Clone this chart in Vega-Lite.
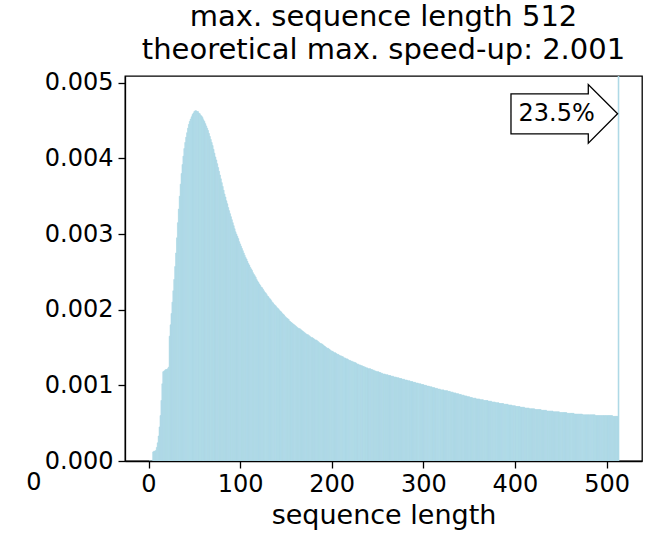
{
  "$schema": "https://vega.github.io/schema/vega-lite/v6.json",
  "width": 517,
  "height": 385,
  "autosize": {"type": "none"},
  "padding": {"left": 125, "top": 76, "right": 12, "bottom": 73},
  "background": "white",
  "title": {
    "text": ["max. sequence length 512", "theoretical max. speed-up: 2.001"],
    "font": "DejaVu Sans",
    "fontSize": 29,
    "fontWeight": "normal",
    "color": "black",
    "anchor": "middle",
    "lineHeight": 33,
    "offset": 6
  },
  "config": {
    "view": {"stroke": "black", "strokeWidth": 1.3},
    "axis": {
      "domainColor": "black",
      "domainWidth": 1.3,
      "tickColor": "black",
      "tickWidth": 1.3,
      "tickSize": 7,
      "grid": false,
      "labelFont": "DejaVu Sans",
      "labelFontSize": 24,
      "labelColor": "black",
      "titleFont": "DejaVu Sans",
      "titleFontSize": 27,
      "titleFontWeight": "normal",
      "titleColor": "black"
    }
  },
  "data": {"values": [
{"len":0,"dens":0},{"len":1,"dens":0},{"len":2,"dens":0},{"len":3,"dens":0},{"len":4,"dens":0.00012},{"len":5,"dens":0.00013},{"len":6,"dens":0.00013},{"len":7,"dens":0.00014},{"len":8,"dens":0.00018},{"len":9,"dens":0.00024},
{"len":10,"dens":0.00033},{"len":11,"dens":0.00045},{"len":12,"dens":0.0006},{"len":13,"dens":0.0008},{"len":14,"dens":0.00102},{"len":15,"dens":0.00118},{"len":16,"dens":0.00119},{"len":17,"dens":0.0012},{"len":18,"dens":0.00121},{"len":19,"dens":0.00121},
{"len":20,"dens":0.00122},{"len":21,"dens":0.00124},{"len":22,"dens":0.00165},{"len":23,"dens":0.0018},{"len":24,"dens":0.00195},{"len":25,"dens":0.0021},{"len":26,"dens":0.00225},{"len":27,"dens":0.0024},{"len":28,"dens":0.00257},{"len":29,"dens":0.00275},
{"len":30,"dens":0.00295},{"len":31,"dens":0.00315},{"len":32,"dens":0.00333},{"len":33,"dens":0.0035},{"len":34,"dens":0.00366},{"len":35,"dens":0.0038},{"len":36,"dens":0.00392},{"len":37,"dens":0.00403},{"len":38,"dens":0.00413},{"len":39,"dens":0.00421},
{"len":40,"dens":0.00428},{"len":41,"dens":0.00434},{"len":42,"dens":0.0044},{"len":43,"dens":0.00445},{"len":44,"dens":0.00449},{"len":45,"dens":0.00452},{"len":46,"dens":0.00455},{"len":47,"dens":0.00458},{"len":48,"dens":0.0046},{"len":49,"dens":0.00462},
{"len":50,"dens":0.00463},{"len":51,"dens":0.00463},{"len":52,"dens":0.00462},{"len":53,"dens":0.00462},{"len":54,"dens":0.0046},{"len":55,"dens":0.00459},{"len":56,"dens":0.00457},{"len":57,"dens":0.00456},{"len":58,"dens":0.00454},{"len":59,"dens":0.00451},
{"len":60,"dens":0.00449},{"len":61,"dens":0.00446},{"len":62,"dens":0.00443},{"len":63,"dens":0.0044},{"len":64,"dens":0.00437},{"len":65,"dens":0.00433},{"len":66,"dens":0.00429},{"len":67,"dens":0.00425},{"len":68,"dens":0.00421},{"len":69,"dens":0.00417},
{"len":70,"dens":0.00412},{"len":71,"dens":0.00407},{"len":72,"dens":0.00402},{"len":73,"dens":0.00398},{"len":74,"dens":0.00393},{"len":75,"dens":0.00388},{"len":76,"dens":0.00383},{"len":77,"dens":0.00378},{"len":78,"dens":0.00373},{"len":79,"dens":0.00368},
{"len":80,"dens":0.00363},{"len":81,"dens":0.00358},{"len":82,"dens":0.00353},{"len":83,"dens":0.00349},{"len":84,"dens":0.00344},{"len":85,"dens":0.0034},{"len":86,"dens":0.00335},{"len":87,"dens":0.00331},{"len":88,"dens":0.00327},{"len":89,"dens":0.00323},
{"len":90,"dens":0.00319},{"len":91,"dens":0.00315},{"len":92,"dens":0.00311},{"len":93,"dens":0.00307},{"len":94,"dens":0.00303},{"len":95,"dens":0.003},{"len":96,"dens":0.00297},{"len":97,"dens":0.00294},{"len":98,"dens":0.0029},{"len":99,"dens":0.00287},
{"len":100,"dens":0.00284},{"len":101,"dens":0.00281},{"len":102,"dens":0.00278},{"len":103,"dens":0.00275},{"len":104,"dens":0.00272},{"len":105,"dens":0.00269},{"len":106,"dens":0.00267},{"len":107,"dens":0.00264},{"len":108,"dens":0.00261},{"len":109,"dens":0.00259},
{"len":110,"dens":0.00256},{"len":111,"dens":0.00254},{"len":112,"dens":0.00252},{"len":113,"dens":0.00249},{"len":114,"dens":0.00247},{"len":115,"dens":0.00245},{"len":116,"dens":0.00243},{"len":117,"dens":0.0024},{"len":118,"dens":0.00238},{"len":119,"dens":0.00236},
{"len":120,"dens":0.00234},{"len":121,"dens":0.00232},{"len":122,"dens":0.0023},{"len":123,"dens":0.00229},{"len":124,"dens":0.00227},{"len":125,"dens":0.00225},{"len":126,"dens":0.00223},{"len":127,"dens":0.00222},{"len":128,"dens":0.0022},{"len":129,"dens":0.00218},
{"len":130,"dens":0.00217},{"len":131,"dens":0.00215},{"len":132,"dens":0.00214},{"len":133,"dens":0.00212},{"len":134,"dens":0.0021},{"len":135,"dens":0.00209},{"len":136,"dens":0.00207},{"len":137,"dens":0.00206},{"len":138,"dens":0.00205},{"len":139,"dens":0.00203},
{"len":140,"dens":0.00202},{"len":141,"dens":0.00201},{"len":142,"dens":0.00199},{"len":143,"dens":0.00198},{"len":144,"dens":0.00197},{"len":145,"dens":0.00195},{"len":146,"dens":0.00194},{"len":147,"dens":0.00193},{"len":148,"dens":0.00191},{"len":149,"dens":0.0019},
{"len":150,"dens":0.00189},{"len":151,"dens":0.00188},{"len":152,"dens":0.00187},{"len":153,"dens":0.00185},{"len":154,"dens":0.00184},{"len":155,"dens":0.00183},{"len":156,"dens":0.00182},{"len":157,"dens":0.00181},{"len":158,"dens":0.0018},{"len":159,"dens":0.00179},
{"len":160,"dens":0.00178},{"len":161,"dens":0.00177},{"len":162,"dens":0.00176},{"len":163,"dens":0.00175},{"len":164,"dens":0.00175},{"len":165,"dens":0.00174},{"len":166,"dens":0.00173},{"len":167,"dens":0.00172},{"len":168,"dens":0.00171},{"len":169,"dens":0.0017},
{"len":170,"dens":0.00169},{"len":171,"dens":0.00168},{"len":172,"dens":0.00167},{"len":173,"dens":0.00167},{"len":174,"dens":0.00166},{"len":175,"dens":0.00165},{"len":176,"dens":0.00164},{"len":177,"dens":0.00163},{"len":178,"dens":0.00163},{"len":179,"dens":0.00162},
{"len":180,"dens":0.00161},{"len":181,"dens":0.0016},{"len":182,"dens":0.0016},{"len":183,"dens":0.00159},{"len":184,"dens":0.00158},{"len":185,"dens":0.00157},{"len":186,"dens":0.00156},{"len":187,"dens":0.00155},{"len":188,"dens":0.00155},{"len":189,"dens":0.00154},
{"len":190,"dens":0.00153},{"len":191,"dens":0.00152},{"len":192,"dens":0.00151},{"len":193,"dens":0.0015},{"len":194,"dens":0.00149},{"len":195,"dens":0.00149},{"len":196,"dens":0.00148},{"len":197,"dens":0.00147},{"len":198,"dens":0.00146},{"len":199,"dens":0.00145},
{"len":200,"dens":0.00145},{"len":201,"dens":0.00144},{"len":202,"dens":0.00143},{"len":203,"dens":0.00143},{"len":204,"dens":0.00142},{"len":205,"dens":0.00141},{"len":206,"dens":0.00141},{"len":207,"dens":0.0014},{"len":208,"dens":0.00139},{"len":209,"dens":0.00139},
{"len":210,"dens":0.00138},{"len":211,"dens":0.00138},{"len":212,"dens":0.00137},{"len":213,"dens":0.00136},{"len":214,"dens":0.00136},{"len":215,"dens":0.00135},{"len":216,"dens":0.00135},{"len":217,"dens":0.00134},{"len":218,"dens":0.00133},{"len":219,"dens":0.00133},
{"len":220,"dens":0.00132},{"len":221,"dens":0.00132},{"len":222,"dens":0.00131},{"len":223,"dens":0.00131},{"len":224,"dens":0.0013},{"len":225,"dens":0.0013},{"len":226,"dens":0.00129},{"len":227,"dens":0.00128},{"len":228,"dens":0.00128},{"len":229,"dens":0.00127},
{"len":230,"dens":0.00127},{"len":231,"dens":0.00126},{"len":232,"dens":0.00126},{"len":233,"dens":0.00125},{"len":234,"dens":0.00125},{"len":235,"dens":0.00124},{"len":236,"dens":0.00124},{"len":237,"dens":0.00123},{"len":238,"dens":0.00123},{"len":239,"dens":0.00122},
{"len":240,"dens":0.00122},{"len":241,"dens":0.00122},{"len":242,"dens":0.00121},{"len":243,"dens":0.00121},{"len":244,"dens":0.0012},{"len":245,"dens":0.0012},{"len":246,"dens":0.00119},{"len":247,"dens":0.00119},{"len":248,"dens":0.00118},{"len":249,"dens":0.00118},
{"len":250,"dens":0.00118},{"len":251,"dens":0.00117},{"len":252,"dens":0.00117},{"len":253,"dens":0.00116},{"len":254,"dens":0.00116},{"len":255,"dens":0.00115},{"len":256,"dens":0.00115},{"len":257,"dens":0.00115},{"len":258,"dens":0.00114},{"len":259,"dens":0.00114},
{"len":260,"dens":0.00114},{"len":261,"dens":0.00113},{"len":262,"dens":0.00113},{"len":263,"dens":0.00113},{"len":264,"dens":0.00112},{"len":265,"dens":0.00112},{"len":266,"dens":0.00112},{"len":267,"dens":0.00111},{"len":268,"dens":0.00111},{"len":269,"dens":0.00111},
{"len":270,"dens":0.0011},{"len":271,"dens":0.0011},{"len":272,"dens":0.0011},{"len":273,"dens":0.00109},{"len":274,"dens":0.00109},{"len":275,"dens":0.00109},{"len":276,"dens":0.00108},{"len":277,"dens":0.00108},{"len":278,"dens":0.00108},{"len":279,"dens":0.00107},
{"len":280,"dens":0.00107},{"len":281,"dens":0.00107},{"len":282,"dens":0.00106},{"len":283,"dens":0.00106},{"len":284,"dens":0.00106},{"len":285,"dens":0.00105},{"len":286,"dens":0.00105},{"len":287,"dens":0.00105},{"len":288,"dens":0.00104},{"len":289,"dens":0.00104},
{"len":290,"dens":0.00104},{"len":291,"dens":0.00103},{"len":292,"dens":0.00103},{"len":293,"dens":0.00103},{"len":294,"dens":0.00102},{"len":295,"dens":0.00102},{"len":296,"dens":0.00102},{"len":297,"dens":0.00101},{"len":298,"dens":0.00101},{"len":299,"dens":0.00101},
{"len":300,"dens":0.001},{"len":301,"dens":0.001},{"len":302,"dens":0.001},{"len":303,"dens":0.00099},{"len":304,"dens":0.00099},{"len":305,"dens":0.00099},{"len":306,"dens":0.00098},{"len":307,"dens":0.00098},{"len":308,"dens":0.00098},{"len":309,"dens":0.00097},
{"len":310,"dens":0.00097},{"len":311,"dens":0.00097},{"len":312,"dens":0.00096},{"len":313,"dens":0.00096},{"len":314,"dens":0.00096},{"len":315,"dens":0.00095},{"len":316,"dens":0.00095},{"len":317,"dens":0.00095},{"len":318,"dens":0.00094},{"len":319,"dens":0.00094},
{"len":320,"dens":0.00094},{"len":321,"dens":0.00094},{"len":322,"dens":0.00093},{"len":323,"dens":0.00093},{"len":324,"dens":0.00093},{"len":325,"dens":0.00093},{"len":326,"dens":0.00092},{"len":327,"dens":0.00092},{"len":328,"dens":0.00092},{"len":329,"dens":0.00091},
{"len":330,"dens":0.00091},{"len":331,"dens":0.00091},{"len":332,"dens":0.0009},{"len":333,"dens":0.0009},{"len":334,"dens":0.0009},{"len":335,"dens":0.00089},{"len":336,"dens":0.00089},{"len":337,"dens":0.00089},{"len":338,"dens":0.00088},{"len":339,"dens":0.00088},
{"len":340,"dens":0.00088},{"len":341,"dens":0.00087},{"len":342,"dens":0.00087},{"len":343,"dens":0.00087},{"len":344,"dens":0.00086},{"len":345,"dens":0.00086},{"len":346,"dens":0.00086},{"len":347,"dens":0.00085},{"len":348,"dens":0.00085},{"len":349,"dens":0.00085},
{"len":350,"dens":0.00084},{"len":351,"dens":0.00084},{"len":352,"dens":0.00084},{"len":353,"dens":0.00083},{"len":354,"dens":0.00083},{"len":355,"dens":0.00083},{"len":356,"dens":0.00083},{"len":357,"dens":0.00082},{"len":358,"dens":0.00082},{"len":359,"dens":0.00082},
{"len":360,"dens":0.00082},{"len":361,"dens":0.00081},{"len":362,"dens":0.00081},{"len":363,"dens":0.00081},{"len":364,"dens":0.00081},{"len":365,"dens":0.0008},{"len":366,"dens":0.0008},{"len":367,"dens":0.0008},{"len":368,"dens":0.0008},{"len":369,"dens":0.0008},
{"len":370,"dens":0.00079},{"len":371,"dens":0.00079},{"len":372,"dens":0.00079},{"len":373,"dens":0.00079},{"len":374,"dens":0.00078},{"len":375,"dens":0.00078},{"len":376,"dens":0.00078},{"len":377,"dens":0.00078},{"len":378,"dens":0.00077},{"len":379,"dens":0.00077},
{"len":380,"dens":0.00077},{"len":381,"dens":0.00077},{"len":382,"dens":0.00076},{"len":383,"dens":0.00076},{"len":384,"dens":0.00076},{"len":385,"dens":0.00076},{"len":386,"dens":0.00076},{"len":387,"dens":0.00075},{"len":388,"dens":0.00075},{"len":389,"dens":0.00075},
{"len":390,"dens":0.00075},{"len":391,"dens":0.00075},{"len":392,"dens":0.00074},{"len":393,"dens":0.00074},{"len":394,"dens":0.00074},{"len":395,"dens":0.00074},{"len":396,"dens":0.00073},{"len":397,"dens":0.00073},{"len":398,"dens":0.00073},{"len":399,"dens":0.00073},
{"len":400,"dens":0.00072},{"len":401,"dens":0.00072},{"len":402,"dens":0.00072},{"len":403,"dens":0.00072},{"len":404,"dens":0.00072},{"len":405,"dens":0.00071},{"len":406,"dens":0.00071},{"len":407,"dens":0.00071},{"len":408,"dens":0.00071},{"len":409,"dens":0.00071},
{"len":410,"dens":0.0007},{"len":411,"dens":0.0007},{"len":412,"dens":0.0007},{"len":413,"dens":0.0007},{"len":414,"dens":0.0007},{"len":415,"dens":0.00069},{"len":416,"dens":0.00069},{"len":417,"dens":0.00069},{"len":418,"dens":0.00069},{"len":419,"dens":0.00069},
{"len":420,"dens":0.00069},{"len":421,"dens":0.00068},{"len":422,"dens":0.00068},{"len":423,"dens":0.00068},{"len":424,"dens":0.00068},{"len":425,"dens":0.00068},{"len":426,"dens":0.00068},{"len":427,"dens":0.00068},{"len":428,"dens":0.00067},{"len":429,"dens":0.00067},
{"len":430,"dens":0.00067},{"len":431,"dens":0.00067},{"len":432,"dens":0.00067},{"len":433,"dens":0.00067},{"len":434,"dens":0.00066},{"len":435,"dens":0.00066},{"len":436,"dens":0.00066},{"len":437,"dens":0.00066},{"len":438,"dens":0.00066},{"len":439,"dens":0.00066},
{"len":440,"dens":0.00066},{"len":441,"dens":0.00065},{"len":442,"dens":0.00065},{"len":443,"dens":0.00065},{"len":444,"dens":0.00065},{"len":445,"dens":0.00065},{"len":446,"dens":0.00065},{"len":447,"dens":0.00065},{"len":448,"dens":0.00064},{"len":449,"dens":0.00064},
{"len":450,"dens":0.00064},{"len":451,"dens":0.00064},{"len":452,"dens":0.00064},{"len":453,"dens":0.00064},{"len":454,"dens":0.00064},{"len":455,"dens":0.00064},{"len":456,"dens":0.00063},{"len":457,"dens":0.00063},{"len":458,"dens":0.00063},{"len":459,"dens":0.00063},
{"len":460,"dens":0.00063},{"len":461,"dens":0.00063},{"len":462,"dens":0.00063},{"len":463,"dens":0.00063},{"len":464,"dens":0.00062},{"len":465,"dens":0.00062},{"len":466,"dens":0.00062},{"len":467,"dens":0.00062},{"len":468,"dens":0.00062},{"len":469,"dens":0.00062},
{"len":470,"dens":0.00062},{"len":471,"dens":0.00062},{"len":472,"dens":0.00062},{"len":473,"dens":0.00061},{"len":474,"dens":0.00061},{"len":475,"dens":0.00061},{"len":476,"dens":0.00061},{"len":477,"dens":0.00061},{"len":478,"dens":0.00061},{"len":479,"dens":0.00061},
{"len":480,"dens":0.00061},{"len":481,"dens":0.00061},{"len":482,"dens":0.00061},{"len":483,"dens":0.00061},{"len":484,"dens":0.00061},{"len":485,"dens":0.00061},{"len":486,"dens":0.00061},{"len":487,"dens":0.0006},{"len":488,"dens":0.0006},{"len":489,"dens":0.0006},
{"len":490,"dens":0.0006},{"len":491,"dens":0.0006},{"len":492,"dens":0.0006},{"len":493,"dens":0.0006},{"len":494,"dens":0.0006},{"len":495,"dens":0.0006},{"len":496,"dens":0.0006},{"len":497,"dens":0.0006},{"len":498,"dens":0.0006},{"len":499,"dens":0.0006},
{"len":500,"dens":0.0006},{"len":501,"dens":0.0006},{"len":502,"dens":0.0006},{"len":503,"dens":0.0006},{"len":504,"dens":0.0006},{"len":505,"dens":0.0006},{"len":506,"dens":0.00059},{"len":507,"dens":0.00059},{"len":508,"dens":0.00059},{"len":509,"dens":0.00059},
{"len":510,"dens":0.00059},{"len":511,"dens":0.00059},{"len":512,"dens":0.235}
  ]},
  "layer": [
    {
      "mark": {"type": "bar", "color": "#add8e6", "stroke": "#add8e6", "strokeWidth": 0.6, "clip": true, "binSpacing": 0},
      "encoding": {
        "x": {
          "field": "len",
          "type": "quantitative",
          "bin": {"binned": true, "step": 1},
          "scale": {"domain": [-25.65, 538.65], "nice": false, "zero": false},
          "axis": {"values": [0, 100, 200, 300, 400, 500], "format": "d", "title": "sequence length", "labelPadding": 4, "titlePadding": 6, "labelFlush": false}
        },
        "y": {
          "field": "dens",
          "type": "quantitative",
          "scale": {"domain": [0, 0.00509], "nice": false},
          "axis": {"values": [0, 0.001, 0.002, 0.003, 0.004, 0.005], "format": ".3f", "title": null, "labelPadding": 5}
        }
      }
    },
    {
      "data": {"values": [{"share": "23.5%", "len": 512}]},
      "mark": {
        "type": "point",
        "shape": "M0,0 L-0.586,-0.586 L-0.586,-0.4 L-2.132,-0.4 L-2.132,0.4 L-0.586,0.4 L-0.586,0.586 Z",
        "size": 10000,
        "filled": true,
        "fill": "white",
        "stroke": "black",
        "strokeWidth": 1.3,
        "opacity": 1
      },
      "encoding": {
        "x": {"field": "len", "type": "quantitative"},
        "y": {"datum": 0.00459}
      }
    },
    {
      "data": {"values": [{"share": "23.5%", "len": 512}]},
      "mark": {"type": "text", "font": "DejaVu Sans", "fontSize": 24, "color": "black", "align": "center", "baseline": "middle", "dx": -61},
      "encoding": {
        "x": {"field": "len", "type": "quantitative"},
        "y": {"datum": 0.00459},
        "text": {"field": "share"}
      }
    },
    {
      "data": {"values": [{"label": "0"}]},
      "mark": {"type": "text", "font": "DejaVu Sans", "fontSize": 24, "color": "black", "align": "center", "baseline": "middle", "dx": -91, "dy": 22},
      "encoding": {
        "x": {"datum": -25.65},
        "y": {"datum": 0},
        "text": {"field": "label"}
      }
    }
  ]
}
